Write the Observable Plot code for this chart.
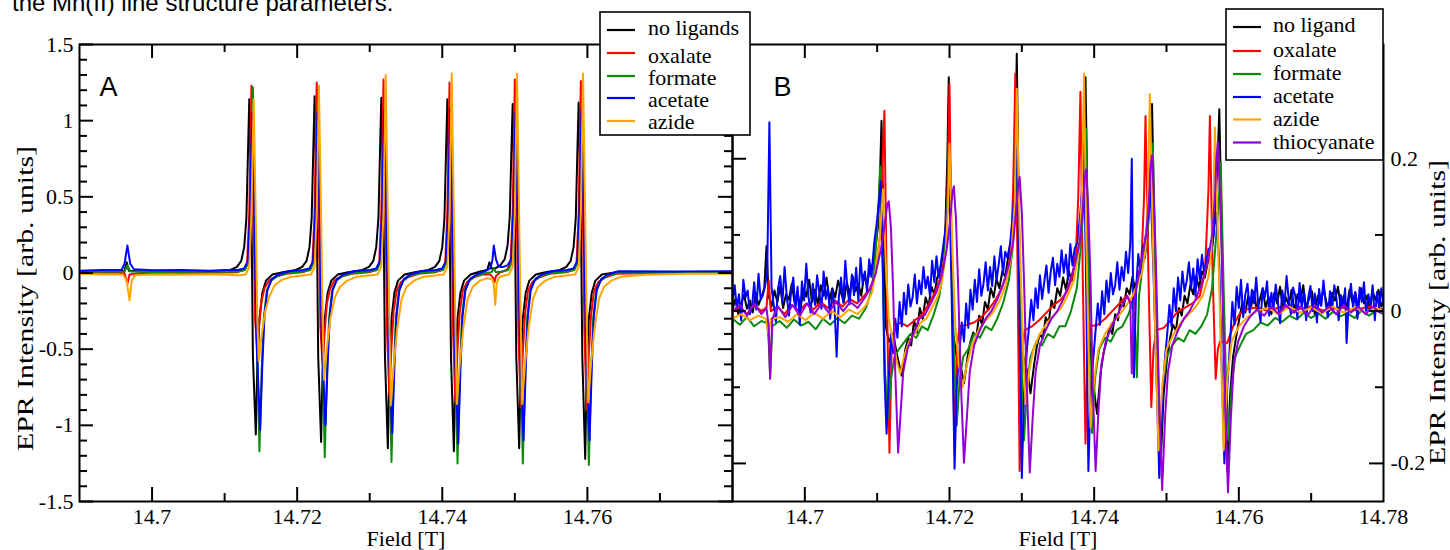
<!DOCTYPE html>
<html><head><meta charset="utf-8">
<script src="https://cdn.jsdelivr.net/npm/d3@7"></script>
<script src="https://cdn.jsdelivr.net/npm/@observablehq/plot@0.6"></script>
<style>
body{margin:0;background:#fff;}
#wrap{position:relative;width:1450px;height:550px;overflow:hidden;background:#fff;}
#wrap svg{position:absolute;left:0;top:0;overflow:visible;max-width:none;}
#cap{position:absolute;left:12px;top:-9px;font-family:"Liberation Sans",Arial,sans-serif;font-size:24px;line-height:24px;white-space:nowrap;color:#000;}
</style></head>
<body><div id="wrap"><div id="cap">the Mn(II) line structure parameters.</div></div>
<script>
// ---------- series names, colours, ticks ----------
const seriesA = ["no ligands","oxalate","formate","acetate","azide"];
const colorsA = ["#000000","#ff0000","#0b8b0b","#0000ff","#ffa500"];
const seriesB = ["no ligand","oxalate","formate","acetate","azide","thiocyanate"];
const colorsB = ["#000000","#ff0000","#0b8b0b","#0000ff","#ffa500","#9400d3"];
const xMajor = [14.7,14.72,14.74,14.76];
const xMinor = [14.71,14.73,14.75,14.77];
const xLabelsA = [14.7,14.72,14.74,14.76];
const xLabelsB = [14.7,14.72,14.74,14.76,14.78];
const yMajorA = [-1.5,-1,-0.5,0,0.5,1,1.5];
const yMinorA = [-1.4,-1.3,-1.2,-1.1,-0.9,-0.8,-0.7,-0.6,-0.4,-0.3,-0.2,-0.1,0.1,0.2,0.3,0.4,0.6,0.7,0.8,0.9,1.1,1.2,1.3,1.4];
const yLabelsA = [-1.5,-1,-0.5,0,0.5,1,1.5];
const yMajorB = [-0.2,0,0.2];
const yMinorB = [-0.1,0.1,0.3];
const yLabelsB = [-0.2,0,0.2];

// ---------- panel A spectra [field T, intensity] ----------
const A_noLigands = [
[14.6900,0.010],[14.6925,0.006],[14.6950,0.012],[14.6962,0.015],[14.6965,0.07],[14.6968,0.015],[14.6985,0.010],[14.7010,0.005],[14.7040,0.010],[14.7070,0.007],[14.7095,0.012],
[14.7108,0.02],[14.7117,0.04],[14.7123,0.08],[14.7127,0.17],[14.7130,0.36],[14.7132,0.75],[14.7134,1.14],[14.7137,0.40],[14.7139,-0.55],[14.7143,-1.06],[14.7145,-0.62],[14.7148,-0.30],[14.7152,-0.13],[14.7157,-0.05],[14.7166,-0.01],[14.7180,0.005],
[14.7198,0.02],[14.7207,0.04],[14.7213,0.08],[14.7217,0.17],[14.7220,0.36],[14.7222,0.76],[14.7224,1.16],[14.7227,0.40],[14.7229,-0.55],[14.7233,-1.11],[14.7235,-0.64],[14.7238,-0.30],[14.7242,-0.13],[14.7247,-0.05],[14.7256,-0.01],[14.7270,0.005],
[14.7290,0.02],[14.7299,0.04],[14.7305,0.08],[14.7309,0.17],[14.7312,0.36],[14.7314,0.76],[14.7316,1.15],[14.7319,0.40],[14.7321,-0.55],[14.7325,-1.15],[14.7327,-0.66],[14.7330,-0.30],[14.7334,-0.13],[14.7339,-0.05],[14.7348,-0.01],[14.7362,0.005],
[14.7381,0.02],[14.7390,0.04],[14.7396,0.08],[14.7400,0.17],[14.7403,0.36],[14.7405,0.76],[14.7407,1.14],[14.7410,0.40],[14.7412,-0.55],[14.7416,-1.17],[14.7418,-0.66],[14.7421,-0.30],[14.7425,-0.13],[14.7430,-0.05],[14.7439,-0.01],[14.7452,0.01],
[14.7462,0.02],[14.7465,0.07],[14.7468,0.03],
[14.7473,0.03],[14.7480,0.05],[14.7486,0.09],[14.7490,0.18],[14.7493,0.37],[14.7495,0.75],[14.7497,1.11],[14.7500,0.40],[14.7502,-0.55],[14.7506,-1.15],[14.7508,-0.66],[14.7511,-0.30],[14.7515,-0.13],[14.7520,-0.05],[14.7529,-0.01],[14.7542,0.005],
[14.7562,0.02],[14.7571,0.04],[14.7577,0.08],[14.7581,0.17],[14.7584,0.36],[14.7586,0.76],[14.7588,1.12],[14.7591,0.40],[14.7593,-0.55],[14.7597,-1.22],[14.7599,-0.68],[14.7602,-0.30],[14.7606,-0.13],[14.7611,-0.05],[14.7620,-0.01],[14.7640,0.005],[14.7680,0.0],[14.7720,0.006],[14.7760,0.0],[14.7800,0.003]
];
const A_oxalate = [
[14.6900,0.000],[14.6940,0.004],[14.6962,0.000],[14.6966,-0.07],[14.6969,-0.01],[14.6990,0.000],[14.7030,0.004],[14.7070,0.000],[14.7100,0.004],
[14.7117,0.005],[14.7126,0.02],[14.7131,0.06],[14.7134,0.40],[14.7137,1.23],[14.7140,0.30],[14.7142,-0.30],[14.7145,-0.50],[14.7148,-0.32],[14.7151,-0.18],[14.7155,-0.10],[14.7161,-0.05],[14.7170,-0.025],[14.7185,-0.005],
[14.7207,0.005],[14.7216,0.02],[14.7221,0.06],[14.7224,0.40],[14.7227,1.25],[14.7230,0.30],[14.7232,-0.35],[14.7235,-0.60],[14.7238,-0.38],[14.7241,-0.20],[14.7245,-0.11],[14.7251,-0.05],[14.7260,-0.025],[14.7275,-0.005],
[14.7299,0.005],[14.7308,0.02],[14.7313,0.06],[14.7316,0.40],[14.7319,1.27],[14.7322,0.30],[14.7324,-0.40],[14.7327,-0.80],[14.7330,-0.48],[14.7333,-0.25],[14.7337,-0.12],[14.7343,-0.06],[14.7352,-0.03],[14.7367,-0.005],
[14.7390,0.005],[14.7399,0.02],[14.7404,0.06],[14.7407,0.40],[14.7410,1.25],[14.7413,0.30],[14.7415,-0.40],[14.7418,-0.85],[14.7421,-0.50],[14.7424,-0.26],[14.7428,-0.12],[14.7434,-0.06],[14.7443,-0.03],[14.7455,-0.01],
[14.7466,-0.01],[14.7470,-0.03],[14.7472,-0.06],[14.7474,-0.02],
[14.7480,0.005],[14.7489,0.02],[14.7494,0.06],[14.7497,0.40],[14.7500,1.27],[14.7503,0.30],[14.7505,-0.40],[14.7508,-0.88],[14.7511,-0.52],[14.7514,-0.27],[14.7518,-0.12],[14.7524,-0.06],[14.7533,-0.03],[14.7548,-0.005],
[14.7571,0.005],[14.7580,0.02],[14.7585,0.06],[14.7588,0.40],[14.7591,1.26],[14.7594,0.30],[14.7596,-0.40],[14.7599,-0.90],[14.7602,-0.53],[14.7605,-0.28],[14.7609,-0.12],[14.7615,-0.06],[14.7624,-0.03],[14.7640,-0.005],[14.7700,0.000],[14.7800,0.000]
];
const A_formate = [
[14.6900,0.010],[14.6940,0.008],[14.6962,0.010],[14.6966,0.05],[14.6970,0.010],[14.7000,0.006],[14.7050,0.010],[14.7100,0.008],
[14.7119,0.01],[14.7128,0.02],[14.7133,0.07],[14.7136,0.40],[14.7139,1.22],[14.7142,0.35],[14.7145,-0.50],[14.7148,-1.17],[14.7151,-0.65],[14.7154,-0.30],[14.7158,-0.12],[14.7164,-0.05],[14.7173,-0.02],[14.7188,0.0],
[14.7209,0.01],[14.7218,0.02],[14.7223,0.07],[14.7226,0.40],[14.7229,1.22],[14.7232,0.35],[14.7235,-0.50],[14.7238,-1.21],[14.7241,-0.66],[14.7244,-0.30],[14.7248,-0.12],[14.7254,-0.05],[14.7263,-0.02],[14.7278,0.0],
[14.7301,0.01],[14.7310,0.02],[14.7315,0.07],[14.7318,0.40],[14.7321,1.10],[14.7324,0.35],[14.7327,-0.50],[14.7330,-1.24],[14.7333,-0.67],[14.7336,-0.30],[14.7340,-0.12],[14.7346,-0.05],[14.7355,-0.02],[14.7370,0.0],
[14.7392,0.01],[14.7401,0.02],[14.7406,0.07],[14.7409,0.40],[14.7412,1.10],[14.7415,0.35],[14.7418,-0.50],[14.7421,-1.25],[14.7424,-0.68],[14.7427,-0.30],[14.7431,-0.12],[14.7437,-0.05],[14.7446,-0.02],[14.7460,0.0],
[14.7468,0.005],[14.7471,0.03],[14.7474,0.005],
[14.7482,0.01],[14.7491,0.02],[14.7496,0.07],[14.7499,0.40],[14.7502,1.17],[14.7505,0.35],[14.7508,-0.50],[14.7511,-1.25],[14.7514,-0.68],[14.7517,-0.30],[14.7521,-0.12],[14.7527,-0.05],[14.7536,-0.02],[14.7551,0.0],
[14.7573,0.01],[14.7582,0.02],[14.7587,0.07],[14.7590,0.40],[14.7593,1.20],[14.7596,0.35],[14.7599,-0.50],[14.7602,-1.26],[14.7605,-0.68],[14.7608,-0.30],[14.7612,-0.12],[14.7618,-0.05],[14.7627,-0.02],[14.7642,0.0],[14.7720,0.003],[14.7800,0.0]
];
const A_acetate = [
[14.6900,0.015],[14.6930,0.020],[14.6958,0.020],[14.6962,0.06],[14.6966,0.18],[14.6970,0.06],[14.6975,0.025],[14.7000,0.018],[14.7040,0.020],[14.7080,0.015],[14.7100,0.020],
[14.7118,0.02],[14.7127,0.03],[14.7132,0.08],[14.7135,0.40],[14.7138,1.05],[14.7141,0.35],[14.7144,-0.45],[14.7149,-1.03],[14.7152,-0.60],[14.7155,-0.28],[14.7159,-0.11],[14.7165,-0.04],[14.7174,-0.01],[14.7189,0.012],
[14.7208,0.02],[14.7217,0.03],[14.7222,0.08],[14.7225,0.40],[14.7228,1.05],[14.7231,0.35],[14.7234,-0.45],[14.7239,-1.00],[14.7242,-0.60],[14.7245,-0.28],[14.7249,-0.11],[14.7255,-0.04],[14.7264,-0.01],[14.7279,0.012],
[14.7300,0.02],[14.7309,0.03],[14.7314,0.08],[14.7317,0.40],[14.7320,1.06],[14.7323,0.35],[14.7326,-0.45],[14.7331,-1.05],[14.7334,-0.62],[14.7337,-0.28],[14.7341,-0.11],[14.7347,-0.04],[14.7356,-0.01],[14.7371,0.012],
[14.7391,0.02],[14.7400,0.03],[14.7405,0.08],[14.7408,0.40],[14.7411,1.08],[14.7414,0.35],[14.7417,-0.45],[14.7422,-1.12],[14.7425,-0.64],[14.7428,-0.28],[14.7432,-0.11],[14.7438,-0.04],[14.7447,-0.01],[14.7460,0.015],
[14.7466,0.03],[14.7469,0.08],[14.7471,0.18],[14.7474,0.09],[14.7477,0.05],[14.7480,0.04],
[14.7484,0.04],[14.7490,0.05],[14.7495,0.09],[14.7498,0.40],[14.7501,1.05],[14.7504,0.35],[14.7507,-0.45],[14.7512,-1.10],[14.7515,-0.63],[14.7518,-0.28],[14.7522,-0.11],[14.7528,-0.04],[14.7537,-0.01],[14.7552,0.012],
[14.7572,0.02],[14.7581,0.03],[14.7586,0.08],[14.7589,0.40],[14.7592,1.07],[14.7595,0.35],[14.7598,-0.45],[14.7603,-1.10],[14.7606,-0.63],[14.7609,-0.28],[14.7613,-0.11],[14.7619,-0.04],[14.7628,-0.01],[14.7643,0.012],[14.7720,0.010],[14.7800,0.012]
];
const A_azide = [
[14.6900,-0.005],[14.6930,-0.010],[14.6960,-0.010],[14.6965,-0.05],[14.6969,-0.18],[14.6972,-0.05],[14.6976,-0.015],[14.7000,-0.010],[14.7040,-0.012],[14.7080,-0.008],[14.7100,-0.012],
[14.7120,-0.015],[14.7129,-0.01],[14.7134,0.04],[14.7137,0.40],[14.7140,1.14],[14.7143,0.35],[14.7145,-0.30],[14.7147,-0.58],[14.7151,-0.41],[14.7156,-0.25],[14.7162,-0.15],[14.7169,-0.08],[14.7179,-0.045],[14.7192,-0.025],
[14.7210,-0.015],[14.7219,-0.01],[14.7224,0.04],[14.7227,0.40],[14.7230,1.23],[14.7233,0.35],[14.7235,-0.30],[14.7237,-0.70],[14.7241,-0.49],[14.7246,-0.29],[14.7252,-0.16],[14.7259,-0.09],[14.7269,-0.05],[14.7282,-0.025],
[14.7302,-0.015],[14.7311,-0.01],[14.7316,0.04],[14.7319,0.40],[14.7322,1.30],[14.7325,0.35],[14.7327,-0.30],[14.7329,-0.87],[14.7333,-0.61],[14.7338,-0.36],[14.7344,-0.17],[14.7351,-0.09],[14.7361,-0.05],[14.7374,-0.025],
[14.7393,-0.015],[14.7402,-0.01],[14.7407,0.04],[14.7410,0.40],[14.7413,1.31],[14.7416,0.35],[14.7418,-0.30],[14.7420,-0.86],[14.7424,-0.60],[14.7429,-0.36],[14.7435,-0.17],[14.7442,-0.09],[14.7452,-0.05],[14.7462,-0.035],
[14.7469,-0.04],[14.7471,-0.08],[14.7473,-0.21],[14.7475,-0.07],[14.7478,-0.03],
[14.7483,-0.02],[14.7492,-0.01],[14.7497,0.04],[14.7500,0.40],[14.7503,1.31],[14.7506,0.35],[14.7508,-0.30],[14.7510,-0.86],[14.7514,-0.60],[14.7519,-0.36],[14.7525,-0.17],[14.7532,-0.09],[14.7542,-0.05],[14.7555,-0.025],
[14.7574,-0.015],[14.7583,-0.01],[14.7588,0.04],[14.7591,0.40],[14.7594,1.31],[14.7597,0.35],[14.7599,-0.30],[14.7601,-0.85],[14.7605,-0.60],[14.7610,-0.36],[14.7616,-0.17],[14.7623,-0.09],[14.7633,-0.05],[14.7646,-0.025],[14.7680,-0.012],[14.7740,-0.005],[14.7800,-0.005]
];

// ---------- panel B spectra [field T, intensity] ----------
const B_noLigand = [
[14.6900,0.002],[14.6904,0.016],[14.6908,-0.004],[14.6912,0.010],[14.6916,0.021],[14.6920,0.003],[14.6924,0.014],[14.6928,-0.002],[14.6932,0.024],[14.6936,0.008],[14.6940,0.018],[14.6944,0.030],[14.6947,0.085],[14.6950,0.020],
[14.6954,0.006],[14.6958,0.027],[14.6962,0.012],[14.6966,0.033],[14.6970,0.004],[14.6974,0.022],[14.6978,0.015],[14.6982,0.036],[14.6986,0.010],[14.6990,0.025],[14.6994,0.002],[14.6998,0.030],[14.7002,0.019],[14.7006,0.041],[14.7010,0.012],[14.7014,0.028],[14.7018,0.008],[14.7022,0.034],[14.7026,0.020],[14.7030,0.044],[14.7034,0.014],[14.7038,0.030],[14.7042,0.018],[14.7046,0.040],[14.7050,0.024],[14.7054,0.012],[14.7058,0.038],[14.7062,0.022],[14.7066,0.046],[14.7070,0.026],[14.7074,0.036],[14.7078,0.020],[14.7082,0.048],[14.7086,0.034],[14.7090,0.055],[14.7094,0.062],
[14.7097,0.08],[14.7101,0.11],[14.7104,0.18],[14.7106,0.25],[14.7109,0.10],[14.7112,-0.02],[14.7116,-0.04],[14.7122,-0.03],[14.7128,-0.06],[14.7134,-0.085],
[14.7139,-0.05],[14.7143,-0.035],[14.7147,-0.045],[14.7151,-0.012],[14.7155,-0.028],[14.7159,0.004],[14.7163,-0.010],[14.7167,0.018],[14.7171,0.006],[14.7175,0.032],[14.7179,0.022],[14.7183,0.044],[14.7187,0.052],
[14.7190,0.07],[14.7194,0.10],[14.7197,0.20],[14.7199,0.307],[14.7202,0.12],[14.7205,-0.03],[14.7210,-0.06],[14.7215,-0.07],[14.7220,-0.095],
[14.7225,-0.06],[14.7229,-0.040],[14.7233,-0.028],[14.7237,-0.034],[14.7241,-0.006],[14.7245,-0.018],[14.7249,0.012],[14.7253,0.002],[14.7257,0.030],[14.7261,0.018],[14.7265,0.042],[14.7269,0.030],[14.7273,0.052],[14.7277,0.045],[14.7280,0.064],
[14.7283,0.08],[14.7287,0.11],[14.7291,0.22],[14.7293,0.338],[14.7296,0.12],[14.7299,-0.04],[14.7304,-0.07],[14.7308,-0.08],[14.7312,-0.108],
[14.7317,-0.07],[14.7321,-0.045],[14.7325,-0.030],[14.7329,-0.036],[14.7333,-0.008],[14.7337,-0.016],[14.7341,0.014],[14.7345,0.004],[14.7349,0.030],[14.7353,0.020],[14.7357,0.044],[14.7361,0.028],[14.7365,0.052],[14.7369,0.040],[14.7373,0.062],
[14.7377,0.075],[14.7381,0.10],[14.7385,0.20],[14.7388,0.307],[14.7391,0.12],[14.7394,-0.04],[14.7398,-0.09],[14.7404,-0.135],
[14.7409,-0.08],[14.7413,-0.055],[14.7417,-0.040],[14.7421,-0.022],[14.7425,-0.030],[14.7429,-0.004],[14.7433,-0.012],[14.7437,0.018],[14.7441,0.006],[14.7445,0.030],[14.7449,0.022],[14.7453,0.045],[14.7457,0.028],[14.7461,0.050],[14.7465,0.056],
[14.7470,0.07],[14.7474,0.10],[14.7478,0.19],[14.7480,0.272],[14.7483,0.12],[14.7486,-0.02],[14.7489,-0.12],[14.7492,-0.20],[14.7496,-0.11],
[14.7501,-0.06],[14.7505,-0.035],[14.7509,-0.018],[14.7513,-0.026],[14.7517,0.004],[14.7521,-0.006],[14.7525,0.020],[14.7529,0.010],[14.7533,0.034],[14.7537,0.022],[14.7541,0.046],[14.7545,0.030],[14.7549,0.052],[14.7553,0.044],[14.7557,0.064],
[14.7561,0.07],[14.7565,0.10],[14.7570,0.18],[14.7573,0.265],[14.7576,0.12],[14.7579,-0.04],[14.7584,-0.21],[14.7588,-0.11],[14.7592,-0.06],
[14.7597,-0.03],[14.7601,-0.008],[14.7605,0.012],[14.7609,-0.002],[14.7613,0.020],[14.7617,0.006],[14.7621,0.026],[14.7625,0.000],[14.7629,0.015],[14.7633,0.030],[14.7637,0.004],[14.7641,0.019],[14.7645,-0.004],[14.7649,0.024],[14.7653,0.010],[14.7657,0.032],[14.7661,0.002],[14.7665,0.018],[14.7669,0.008],[14.7673,0.028],[14.7677,-0.002],[14.7681,0.022],[14.7685,0.012],[14.7689,0.034],[14.7693,0.004],[14.7697,0.016],[14.7701,0.026],[14.7705,-0.004],[14.7709,0.020],[14.7713,0.008],[14.7717,0.030],[14.7721,0.012],[14.7725,0.000],[14.7729,0.024],[14.7733,0.014],[14.7737,0.032],[14.7741,0.006],[14.7745,0.020],[14.7749,0.002],[14.7753,0.028],[14.7757,0.012],[14.7761,0.024],[14.7765,0.004],[14.7769,0.030],[14.7773,0.010],[14.7777,0.020],[14.7781,0.000],[14.7785,0.026],[14.7789,0.014],[14.7793,0.028],[14.7797,0.006],[14.7800,0.012]
];
const B_oxalate = [
[14.6900,0.000],[14.6910,0.006],[14.6920,-0.004],[14.6930,0.008],[14.6940,0.000],[14.6947,0.005],[14.6950,0.040],[14.6953,0.000],[14.6962,0.006],[14.6972,-0.004],[14.6982,0.008],[14.6992,0.000],[14.7002,0.010],[14.7012,0.002],[14.7022,0.012],[14.7032,0.004],[14.7042,0.014],[14.7052,0.006],[14.7062,0.016],[14.7072,0.010],[14.7082,0.020],[14.7090,0.030],
[14.7098,0.05],[14.7104,0.10],[14.7107,0.18],[14.7110,0.263],[14.7113,0.05],[14.7117,-0.186],[14.7120,-0.05],[14.7124,-0.02],
[14.7132,-0.015],[14.7142,-0.020],[14.7152,-0.012],[14.7162,-0.005],[14.7172,0.010],[14.7180,0.025],[14.7188,0.045],
[14.7193,0.07],[14.7197,0.15],[14.7200,0.298],[14.7203,0.06],[14.7207,-0.186],[14.7210,-0.05],[14.7214,-0.02],
[14.7224,-0.018],[14.7234,-0.015],[14.7244,-0.008],[14.7254,0.002],[14.7264,0.015],[14.7272,0.030],[14.7280,0.050],
[14.7285,0.08],[14.7288,0.16],[14.7291,0.312],[14.7294,0.06],[14.7297,-0.21],[14.7300,-0.06],[14.7304,-0.025],
[14.7314,-0.020],[14.7324,-0.012],[14.7334,-0.002],[14.7344,0.008],[14.7354,0.015],[14.7362,0.025],[14.7370,0.045],
[14.7375,0.08],[14.7378,0.15],[14.7381,0.288],[14.7384,0.06],[14.7388,-0.174],[14.7391,-0.05],[14.7395,-0.02],
[14.7405,-0.018],[14.7415,-0.010],[14.7425,0.000],[14.7435,0.010],[14.7445,0.020],[14.7452,0.010],[14.7458,0.030],[14.7464,0.050],
[14.7466,0.08],[14.7469,0.15],[14.7471,0.256],[14.7475,0.05],[14.7479,-0.126],[14.7482,-0.05],[14.7486,-0.025],
[14.7496,-0.022],[14.7506,-0.012],[14.7516,0.000],[14.7526,0.005],[14.7536,0.010],[14.7546,0.020],[14.7553,0.050],
[14.7555,0.09],[14.7558,0.16],[14.7560,0.256],[14.7564,0.04],[14.7568,-0.089],[14.7571,-0.05],[14.7574,-0.04],[14.7584,-0.042],[14.7592,-0.02],
[14.7600,-0.005],[14.7610,0.002],[14.7625,0.005],[14.7640,0.000],[14.7660,0.006],[14.7680,0.002],[14.7700,0.006],[14.7720,0.000],[14.7740,0.005],[14.7760,0.001],[14.7780,0.006],[14.7800,0.002]
];
const B_formate = [
[14.6900,-0.010],[14.6910,-0.018],[14.6920,-0.008],[14.6930,-0.020],[14.6940,-0.013],[14.6948,-0.016],[14.6950,-0.040],[14.6952,-0.085],[14.6955,-0.020],[14.6965,-0.013],[14.6975,-0.022],[14.6985,-0.011],[14.6995,-0.019],[14.7005,-0.014],[14.7015,-0.024],[14.7025,-0.010],[14.7035,-0.018],[14.7045,-0.009],[14.7055,-0.016],[14.7065,-0.006],[14.7075,-0.010],[14.7085,0.005],[14.7093,0.030],
[14.7098,0.08],[14.7102,0.14],[14.7104,0.19],[14.7108,0.04],[14.7111,-0.08],[14.7115,-0.14],[14.7119,-0.09],[14.7124,-0.06],[14.7130,-0.05],[14.7138,-0.04],[14.7146,-0.03],[14.7154,-0.035],[14.7162,-0.02],[14.7170,-0.025],[14.7178,-0.005],[14.7186,0.020],
[14.7192,0.06],[14.7196,0.12],[14.7200,0.20],[14.7204,0.03],[14.7207,-0.08],[14.7210,-0.15],[14.7214,-0.09],[14.7219,-0.06],[14.7226,-0.05],[14.7234,-0.03],[14.7242,-0.035],[14.7250,-0.02],[14.7258,-0.025],[14.7266,-0.01],[14.7274,0.010],[14.7282,0.040],
[14.7287,0.08],[14.7291,0.14],[14.7294,0.20],[14.7298,0.03],[14.7300,-0.08],[14.7303,-0.17],[14.7307,-0.10],[14.7312,-0.06],[14.7320,-0.04],[14.7328,-0.045],[14.7336,-0.03],[14.7344,-0.035],[14.7352,-0.02],[14.7360,-0.02],[14.7368,0.000],[14.7376,0.030],
[14.7381,0.08],[14.7386,0.15],[14.7389,0.239],[14.7392,0.04],[14.7394,-0.08],[14.7397,-0.16],[14.7401,-0.09],[14.7407,-0.05],[14.7415,-0.035],[14.7423,-0.04],[14.7431,-0.025],[14.7439,-0.02],[14.7447,-0.005],[14.7453,0.010],[14.7457,-0.030],[14.7459,-0.087],[14.7462,0.020],[14.7467,0.060],
[14.7472,0.09],[14.7477,0.14],[14.7481,0.22],[14.7485,0.04],[14.7488,-0.08],[14.7491,-0.19],[14.7495,-0.10],[14.7500,-0.06],[14.7508,-0.045],[14.7516,-0.035],[14.7524,-0.04],[14.7532,-0.025],[14.7540,-0.03],[14.7548,-0.02],[14.7556,-0.005],[14.7563,0.030],
[14.7568,0.09],[14.7572,0.14],[14.7575,0.195],[14.7579,0.03],[14.7582,-0.08],[14.7586,-0.17],[14.7590,-0.10],[14.7595,-0.06],[14.7602,-0.045],[14.7610,-0.03],[14.7620,-0.025],[14.7630,-0.015],[14.7640,-0.019],[14.7650,-0.009],[14.7660,-0.014],[14.7670,-0.006],[14.7680,-0.011],[14.7690,-0.002],[14.7700,-0.009],[14.7710,-0.003],[14.7720,-0.010],[14.7730,-0.001],[14.7740,-0.007],[14.7750,-0.003],[14.7760,-0.009],[14.7770,0.001],[14.7780,-0.006],[14.7790,0.001],[14.7800,-0.004]
];
const B_acetate = [
[14.6900,0.012],[14.6903,0.034],[14.6906,0.004],[14.6909,0.022],[14.6912,-0.012],[14.6915,0.041],[14.6918,0.018],[14.6921,0.027],[14.6924,-0.004],[14.6927,0.006],[14.6930,0.038],[14.6933,0.002],[14.6936,0.049],[14.6939,0.015],[14.6942,0.021],[14.6945,0.033],
[14.6948,0.05],[14.6951,0.248],[14.6954,0.03],
[14.6957,0.008],[14.6960,-0.014],[14.6963,0.030],[14.6966,0.046],[14.6969,0.011],[14.6972,0.058],[14.6975,0.020],[14.6978,-0.006],[14.6981,0.025],[14.6984,0.044],[14.6987,0.003],[14.6990,0.032],[14.6993,-0.018],[14.6996,0.039],[14.6999,0.014],[14.7002,0.062],[14.7005,0.019],[14.7008,-0.002],[14.7011,0.036],[14.7014,0.008],[14.7017,0.047],[14.7020,0.024],[14.7023,0.003],[14.7026,0.052],[14.7029,0.016],[14.7032,0.031],[14.7035,-0.010],[14.7038,0.027],[14.7041,0.006],[14.7044,-0.060],[14.7047,0.018],[14.7050,0.044],[14.7053,0.011],[14.7056,0.066],[14.7059,0.028],[14.7062,0.009],[14.7065,0.048],[14.7068,0.021],[14.7071,0.057],[14.7074,0.013],[14.7077,0.070],[14.7080,0.035],[14.7083,0.052],[14.7086,0.026],[14.7089,0.068],[14.7092,0.045],
[14.7096,0.09],[14.7100,0.12],[14.7105,0.17],[14.7108,0.05],[14.7110,-0.08],[14.7113,-0.161],[14.7116,-0.09],
[14.7119,-0.03],[14.7122,-0.055],[14.7125,-0.010],[14.7128,-0.035],[14.7131,0.012],[14.7134,-0.020],[14.7137,0.024],[14.7140,-0.004],[14.7143,0.035],[14.7146,0.006],[14.7149,0.018],[14.7152,0.048],[14.7155,0.010],[14.7158,0.040],[14.7161,0.022],[14.7164,0.058],[14.7167,0.030],[14.7170,0.045],[14.7173,0.020],[14.7176,0.066],[14.7179,0.038],[14.7182,0.072],[14.7185,0.044],[14.7188,0.062],
[14.7192,0.09],[14.7196,0.12],[14.7200,0.16],[14.7203,0.02],[14.7207,-0.207],[14.7210,-0.10],
[14.7214,-0.05],[14.7217,-0.015],[14.7220,-0.040],[14.7223,0.010],[14.7226,-0.022],[14.7229,0.028],[14.7232,0.002],[14.7235,0.041],[14.7238,0.012],[14.7241,0.055],[14.7244,0.020],[14.7247,0.036],[14.7250,0.064],[14.7253,0.027],[14.7256,0.058],[14.7259,0.033],[14.7262,0.072],[14.7265,0.040],[14.7268,0.061],[14.7271,0.085],[14.7274,0.048],[14.7277,0.078],[14.7280,0.070],
[14.7284,0.09],[14.7288,0.13],[14.7291,0.18],[14.7293,0.226],[14.7296,0.05],[14.7300,-0.219],[14.7303,-0.11],
[14.7307,-0.05],[14.7310,-0.020],[14.7313,0.015],[14.7316,-0.012],[14.7319,0.030],[14.7322,0.004],[14.7325,0.047],[14.7328,0.016],[14.7331,0.038],[14.7334,0.060],[14.7337,0.024],[14.7340,0.052],[14.7343,0.070],[14.7346,0.034],[14.7349,0.062],[14.7352,0.045],[14.7355,0.080],[14.7358,0.050],[14.7361,0.074],[14.7364,0.042],[14.7367,0.088],[14.7370,0.060],[14.7373,0.082],
[14.7377,0.09],[14.7381,0.13],[14.7384,0.17],[14.7386,0.215],[14.7389,0.03],[14.7392,-0.21],[14.7395,-0.11],
[14.7399,-0.06],[14.7402,-0.025],[14.7405,0.010],[14.7408,-0.018],[14.7411,0.026],[14.7414,-0.004],[14.7417,0.040],[14.7420,0.012],[14.7423,0.050],[14.7426,0.022],[14.7429,0.034],[14.7432,0.064],[14.7435,0.028],[14.7438,0.058],[14.7441,0.040],[14.7444,0.078],[14.7447,0.050],[14.7450,0.090],[14.7452,0.200],[14.7455,-0.087],[14.7458,0.030],[14.7461,0.075],[14.7464,0.050],[14.7467,0.082],
[14.7470,0.09],[14.7474,0.12],[14.7478,0.164],[14.7482,0.05],[14.7486,-0.08],[14.7490,-0.219],[14.7494,-0.12],
[14.7498,-0.06],[14.7501,-0.030],[14.7504,0.008],[14.7507,-0.020],[14.7510,0.030],[14.7513,0.000],[14.7516,0.044],[14.7519,0.014],[14.7522,0.052],[14.7525,0.026],[14.7528,0.040],[14.7531,0.064],[14.7534,0.030],[14.7537,0.056],[14.7540,0.020],[14.7543,0.068],[14.7546,0.042],[14.7549,0.074],[14.7552,0.050],[14.7555,0.066],[14.7558,0.082],[14.7561,0.070],
[14.7564,0.09],[14.7566,0.11],[14.7569,0.129],[14.7573,0.06],[14.7576,-0.06],[14.7580,-0.20],[14.7584,-0.10],
[14.7588,-0.04],[14.7591,0.012],[14.7594,-0.018],[14.7597,0.032],[14.7600,0.004],[14.7603,0.041],[14.7606,-0.008],[14.7609,0.022],[14.7612,0.036],[14.7615,-0.002],[14.7618,0.028],[14.7621,0.010],[14.7624,0.044],[14.7627,0.006],[14.7630,-0.014],[14.7633,0.030],[14.7636,0.018],[14.7639,0.039],[14.7642,-0.006],[14.7645,0.024],[14.7648,0.003],[14.7651,0.035],[14.7654,0.012],[14.7657,-0.016],[14.7660,0.027],[14.7663,0.008],[14.7666,0.046],[14.7669,0.015],[14.7672,-0.004],[14.7675,0.031],[14.7678,0.020],[14.7681,-0.010],[14.7684,0.037],[14.7687,0.005],[14.7690,0.026],[14.7693,-0.012],[14.7696,0.018],[14.7699,0.033],[14.7702,0.000],[14.7705,0.023],[14.7708,-0.015],[14.7711,0.029],[14.7714,0.007],[14.7717,0.040],[14.7720,0.011],[14.7723,-0.008],[14.7726,0.026],[14.7729,0.002],[14.7732,0.034],[14.7735,0.016],[14.7738,-0.012],[14.7741,0.021],[14.7744,0.006],[14.7747,0.030],[14.7749,-0.042],[14.7752,0.014],[14.7755,0.036],[14.7758,0.004],[14.7761,0.025],[14.7764,-0.010],[14.7767,0.031],[14.7770,0.012],[14.7773,0.038],[14.7776,-0.004],[14.7779,0.022],[14.7782,0.008],[14.7785,0.034],[14.7788,-0.012],[14.7791,0.025],[14.7794,0.004],[14.7797,0.030],[14.7800,0.010]
];
const B_azide = [
[14.6900,-0.010],[14.6912,-0.004],[14.6924,-0.012],[14.6936,-0.006],[14.6946,-0.010],[14.6950,-0.030],[14.6953,-0.010],[14.6965,-0.008],[14.6977,-0.014],[14.6989,-0.004],[14.7001,-0.012],[14.7013,-0.002],[14.7025,-0.010],[14.7037,0.000],[14.7049,-0.008],[14.7061,0.002],[14.7073,-0.004],[14.7085,0.008],[14.7093,0.025],
[14.7099,0.06],[14.7104,0.10],[14.7108,0.16],[14.7112,0.06],[14.7116,-0.01],[14.7122,-0.04],[14.7128,-0.07],[14.7132,-0.082],[14.7137,-0.06],[14.7144,-0.04],[14.7152,-0.03],[14.7160,-0.015],[14.7168,-0.010],[14.7176,0.005],[14.7184,0.020],[14.7190,0.040],
[14.7195,0.08],[14.7198,0.14],[14.7200,0.22],[14.7204,0.08],[14.7208,-0.02],[14.7213,-0.07],[14.7218,-0.10],[14.7224,-0.07],[14.7231,-0.045],[14.7240,-0.025],[14.7250,-0.012],[14.7260,-0.002],[14.7270,0.015],[14.7278,0.035],
[14.7285,0.07],[14.7290,0.14],[14.7293,0.292],[14.7297,0.10],[14.7301,-0.03],[14.7305,-0.122],[14.7310,-0.08],[14.7316,-0.05],[14.7325,-0.03],[14.7335,-0.015],[14.7345,-0.005],[14.7355,0.005],[14.7363,0.020],[14.7372,0.040],
[14.7379,0.08],[14.7383,0.15],[14.7386,0.312],[14.7389,0.10],[14.7392,-0.04],[14.7395,-0.153],[14.7400,-0.09],[14.7406,-0.05],[14.7415,-0.03],[14.7425,-0.015],[14.7435,-0.005],[14.7445,0.008],[14.7453,0.020],[14.7460,0.035],[14.7466,0.050],
[14.7471,0.08],[14.7474,0.15],[14.7477,0.285],[14.7481,0.10],[14.7485,-0.05],[14.7489,-0.183],[14.7494,-0.10],[14.7500,-0.05],[14.7510,-0.03],[14.7520,-0.015],[14.7530,-0.005],[14.7540,0.005],[14.7550,0.020],[14.7558,0.045],
[14.7562,0.08],[14.7565,0.15],[14.7567,0.241],[14.7571,0.10],[14.7575,-0.04],[14.7579,-0.183],[14.7584,-0.09],[14.7590,-0.04],[14.7600,-0.02],[14.7612,-0.008],[14.7625,0.000],[14.7640,0.004],[14.7655,-0.004],[14.7670,0.006],[14.7685,-0.002],[14.7700,0.005],[14.7715,-0.003],[14.7730,0.006],[14.7745,-0.002],[14.7760,0.005],[14.7775,-0.002],[14.7790,0.004],[14.7800,0.000]
];
const B_thiocyanate = [
[14.6900,0.000],[14.6910,0.008],[14.6920,-0.006],[14.6930,0.010],[14.6940,-0.004],[14.6947,0.004],[14.6950,-0.020],[14.6952,-0.089],[14.6955,-0.010],[14.6963,0.006],[14.6973,-0.008],[14.6983,0.008],[14.6993,-0.006],[14.7003,0.010],[14.7013,-0.004],[14.7023,0.010],[14.7033,-0.002],[14.7043,0.012],[14.7053,0.000],[14.7063,0.012],[14.7073,0.004],[14.7083,0.018],[14.7091,0.030],
[14.7098,0.05],[14.7105,0.08],[14.7110,0.11],[14.7114,0.14],[14.7116,0.144],[14.7119,0.11],[14.7122,0.03],[14.7125,-0.08],[14.7129,-0.186],[14.7132,-0.14],[14.7136,-0.08],[14.7142,-0.05],[14.7150,-0.03],[14.7158,-0.01],[14.7166,-0.005],[14.7174,0.010],[14.7182,0.025],[14.7190,0.050],
[14.7196,0.08],[14.7201,0.12],[14.7204,0.155],[14.7206,0.164],[14.7209,0.12],[14.7212,0.03],[14.7216,-0.10],[14.7220,-0.199],[14.7224,-0.14],[14.7228,-0.08],[14.7234,-0.045],[14.7242,-0.025],[14.7250,-0.01],[14.7258,0.000],[14.7266,0.015],[14.7274,0.035],[14.7282,0.060],
[14.7288,0.09],[14.7292,0.13],[14.7295,0.165],[14.7297,0.176],[14.7300,0.13],[14.7303,0.04],[14.7307,-0.10],[14.7311,-0.212],[14.7315,-0.14],[14.7319,-0.08],[14.7325,-0.045],[14.7333,-0.025],[14.7341,-0.01],[14.7349,0.000],[14.7357,0.015],[14.7365,0.035],[14.7373,0.060],
[14.7380,0.09],[14.7384,0.13],[14.7387,0.175],[14.7389,0.186],[14.7392,0.13],[14.7395,0.04],[14.7398,-0.10],[14.7402,-0.21],[14.7406,-0.13],[14.7410,-0.07],[14.7416,-0.04],[14.7424,-0.02],[14.7432,-0.005],[14.7440,0.010],[14.7446,0.020],[14.7450,0.010],[14.7452,-0.082],[14.7455,0.010],[14.7460,0.040],[14.7466,0.070],
[14.7472,0.10],[14.7476,0.15],[14.7478,0.19],[14.7480,0.204],[14.7483,0.14],[14.7486,0.04],[14.7490,-0.12],[14.7494,-0.235],[14.7498,-0.14],[14.7502,-0.08],[14.7508,-0.045],[14.7516,-0.025],[14.7524,-0.01],[14.7532,0.000],[14.7540,0.015],[14.7548,0.035],[14.7556,0.060],
[14.7563,0.10],[14.7567,0.15],[14.7569,0.20],[14.7571,0.222],[14.7574,0.15],[14.7577,0.05],[14.7581,-0.12],[14.7585,-0.238],[14.7589,-0.14],[14.7593,-0.07],[14.7599,-0.04],[14.7607,-0.02],[14.7615,-0.008],[14.7625,0.002],[14.7635,-0.006],[14.7645,0.006],[14.7655,-0.004],[14.7665,0.008],[14.7675,-0.002],[14.7685,0.006],[14.7695,-0.006],[14.7705,0.008],[14.7715,-0.002],[14.7725,0.006],[14.7735,-0.004],[14.7745,0.008],[14.7755,-0.002],[14.7765,0.006],[14.7775,-0.004],[14.7785,0.006],[14.7795,-0.002],[14.7800,0.002]
];

// ---------- build tables ----------
const dataA = [A_noLigands, A_oxalate, A_formate, A_acetate, A_azide];
const dataB = [B_noLigand, B_oxalate, B_formate, B_acetate, B_azide, B_thiocyanate];
const rowsA = seriesA.flatMap((s, i) => dataA[i].map(([f, v]) => ({field: f, intensity: v, series: s})));
const rowsB = seriesB.flatMap((s, i) => dataB[i].map(([f, v]) => ({field: f, intensity: v, series: s})));

const W = 1450, H = 550, TOP = 44, BOT = 501;
const fmt = d => String(d);
function tickMarks(xMaj, xMin, yMaj, yMin, pw, ph) {
  const L = 14, l = 8, s = {stroke: "#000", strokeWidth: 2};
  return [
    Plot.ruleX(xMaj, {...s, insetTop: ph - L}),
    Plot.ruleX(xMaj, {...s, insetBottom: ph - L}),
    Plot.ruleX(xMin, {...s, insetTop: ph - l}),
    Plot.ruleX(xMin, {...s, insetBottom: ph - l}),
    Plot.ruleY(yMaj, {...s, insetRight: pw - L}),
    Plot.ruleY(yMaj, {...s, insetLeft: pw - L}),
    Plot.ruleY(yMin, {...s, insetRight: pw - l}),
    Plot.ruleY(yMin, {...s, insetLeft: pw - l})
  ];
}
const serif = '"Liberation Serif", "Times New Roman", serif';
const style = {fontFamily: serif, fontSize: "22px", background: "transparent", overflow: "visible", color: "#000"};
const yTitle = "EPR Intensity [arb. units]";

const leftA = 79, rightA = 732, leftB = 732, rightB = 1383;
const midY = (TOP + BOT) / 2;
const plotA = Plot.plot({
  width: W, height: H,
  marginLeft: leftA, marginRight: W - rightA, marginTop: TOP, marginBottom: H - BOT,
  x: {domain: [14.69, 14.78]},
  y: {domain: [-1.5, 1.5]},
  color: {domain: seriesA, range: colorsA},
  style,
  marks: [
    Plot.line(rowsA, {x: "field", y: "intensity", z: "series", stroke: "series", strokeWidth: 2, strokeLinejoin: "round", clip: true}),
    ...tickMarks(xMajor, xMinor, yMajorA, yMinorA, rightA - leftA, BOT - TOP),
    Plot.frame({stroke: "#000", strokeWidth: 2}),
    Plot.axisX({ticks: xLabelsA, tickSize: 0, tickPadding: 7, tickFormat: fmt, label: null}),
    Plot.axisY({ticks: yLabelsA, tickSize: 0, tickPadding: 6, tickFormat: fmt, label: null}),
    Plot.text(["Field [T]"], {frameAnchor: "bottom", lineAnchor: "middle", dy: 37, fontSize: 22}),
    Plot.text([yTitle], {frameAnchor: "left", textAnchor: "middle", lineAnchor: "middle", rotate: -90, dx: -54, dy: 298 - midY, fontSize: 23}),
    Plot.text(["A"], {frameAnchor: "top-left", dx: 20, dy: 51, textAnchor: "start", lineAnchor: "bottom", fontFamily: '"Liberation Sans", Arial, sans-serif', fontSize: 27})
  ]
});
const plotB = Plot.plot({
  width: W, height: H,
  marginLeft: leftB, marginRight: W - rightB, marginTop: TOP, marginBottom: H - BOT,
  x: {domain: [14.69, 14.78]},
  y: {domain: [-0.25, 0.35]},
  color: {domain: seriesB, range: colorsB},
  style,
  marks: [
    Plot.line(rowsB, {x: "field", y: "intensity", z: "series", stroke: "series", strokeWidth: 2, strokeLinejoin: "round", clip: true}),
    ...tickMarks(xMajor, xMinor, yMajorB, yMinorB, rightB - leftB, BOT - TOP),
    Plot.frame({stroke: "#000", strokeWidth: 2}),
    Plot.axisX({ticks: xLabelsB, tickSize: 0, tickPadding: 7, tickFormat: fmt, label: null}),
    Plot.axisY({anchor: "right", ticks: yLabelsB, tickSize: 0, tickPadding: 7, tickFormat: fmt, label: null}),
    Plot.text(["Field [T]"], {frameAnchor: "bottom", lineAnchor: "middle", dy: 37, fontSize: 22}),
    Plot.text([yTitle], {frameAnchor: "right", textAnchor: "middle", lineAnchor: "middle", rotate: -90, dx: 54, dy: 312 - midY, fontSize: 23}),
    Plot.text(["B"], {frameAnchor: "top-left", dx: 41, dy: 51, textAnchor: "start", lineAnchor: "bottom", fontFamily: '"Liberation Sans", Arial, sans-serif', fontSize: 27})
  ]
});
// stretch the rotated titles along their length as in the reference
[plotA, plotB].forEach(p => {
  p.querySelectorAll("text").forEach(t => {
    if (t.textContent === yTitle) { t.setAttribute("textLength", 305); t.setAttribute("lengthAdjust", "spacingAndGlyphs"); }
  });
});
const wrap = document.getElementById("wrap");
wrap.insertBefore(plotB, wrap.firstChild);
wrap.insertBefore(plotA, wrap.firstChild);

// ---------- legends (overlay on top of both panels) ----------
const ov = d3.select(wrap).append("svg").attr("width", W).attr("height", H)
  .style("position", "absolute").style("left", "0px").style("top", "0px");
function legend(box, names, colors, lineY, textY, lx1, lx2, tx) {
  ov.append("rect").attr("x", box[0]).attr("y", box[1]).attr("width", box[2]).attr("height", box[3])
    .attr("fill", "#fff").attr("stroke", "#000").attr("stroke-width", 1.6);
  names.forEach((n, i) => {
    ov.append("line").attr("x1", lx1).attr("x2", lx2).attr("y1", lineY[i]).attr("y2", lineY[i])
      .attr("stroke", colors[i]).attr("stroke-width", 2.2);
    ov.append("text").attr("x", tx).attr("y", textY[i]).text(n)
      .attr("font-family", serif).attr("font-size", 22).attr("fill", "#000");
  });
}
legend([600, 12, 150, 123], seriesA, colorsA, [30, 53, 76, 98, 121], [35, 62.5, 85, 107, 129], 607, 635, 648);
legend([1226, 9, 157, 151], seriesB, colorsB, [27, 51, 74, 97, 119.5, 142.5], [32, 57, 80, 103, 125.5, 148.5], 1233, 1261, 1273);
wrap.appendChild(document.getElementById("cap"));
</script>
</body></html>
